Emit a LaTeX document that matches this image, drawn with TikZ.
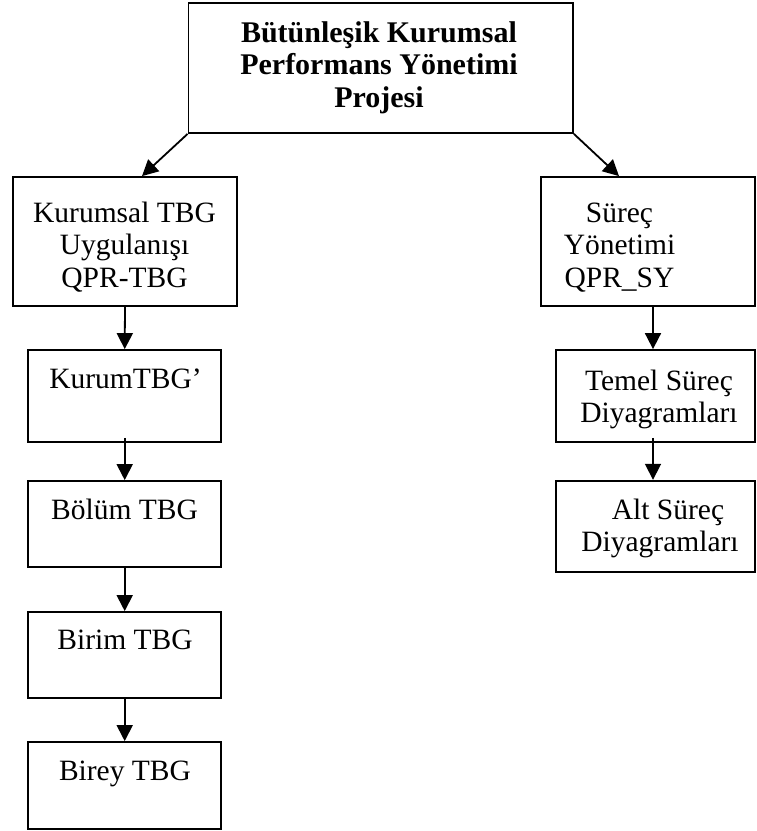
\documentclass[tikz,border=0pt]{standalone}
\usepackage{fontspec}
\setmainfont{Liberation Serif}
\usetikzlibrary{arrows.meta}
\begin{document}
\begin{tikzpicture}[x=1pt,y=-1pt,
  box/.style={draw, line width=1.8pt, inner sep=0pt},
  txt/.style={anchor=base, align=center, inner sep=0pt,
    font=\fontsize{29.5}{32.5}\selectfont},
  ttl/.style={anchor=base, align=center, inner sep=0pt,
    font=\fontsize{30}{32.5}\selectfont\bfseries},
  arr/.style={line width=1.8pt, -{Triangle[length=16pt,width=16pt]}}]

\fill[white] (0,0) rectangle (756,831);
\useasboundingbox (0,0) rectangle (756,831);

% frames
\node[box, minimum width=384.5pt, minimum height=130pt] (top)   at (380.75,68) {};
\node[box, minimum width=224pt,   minimum height=129pt] (kt)    at (125,241.5) {};
\node[box, minimum width=214pt,   minimum height=129pt] (sy)    at (648,241.5) {};
\node[box, minimum width=193pt,   minimum height=92pt]  (kurum) at (124.7,396) {};
\node[box, minimum width=193pt,   minimum height=86pt]  (bolum) at (124.7,524) {};
\node[box, minimum width=193pt,   minimum height=86pt]  (birim) at (124.7,655) {};
\node[box, minimum width=193pt,   minimum height=87pt]  (birey) at (124.7,785.5) {};
\node[box, minimum width=199pt,   minimum height=92pt]  (temel) at (655.5,396) {};
\node[box, minimum width=199pt,   minimum height=91pt]  (alt)   at (655.5,526.2) {};

% labels (a multi-line label is placed by the baseline of its last line)
\node[ttl] (topT) at (379,107) {Bütünleşik Kurumsal\\Performans Yönetimi\\Projesi};
\node[txt] (ktT) at (124.5,287) {Kurumsal TBG\\Uygulanışı\\QPR-TBG};
\node[txt] (syT) at (619.5,287) {Süreç\\Yönetimi\\QPR\_SY};
\node[txt] (kurumT) at (125.5,388) {KurumTBG’};
\node[txt] (bolumT) at (124.5,519) {Bölüm TBG};
\node[txt] (birimT) at (125,649) {Birim TBG};
\node[txt] (bireyT) at (125,780) {Birey TBG};
\node[txt] (temelT) at (659,422.5) {Temel Süreç\\Diyagramları};
\node[txt] (altT) at (660,551.5) {\hspace*{16pt}Alt Süreç\\Diyagramları};

% connectors
\draw[arr] (top.south west) -- ([xshift=17pt]kt.north);
\draw[arr] (top.south east) -- ([xshift=-29pt]sy.north);
\draw[arr] (kt.south) -- (kurum.north);
\draw[arr, shorten <=-5pt] (kurum.south) -- (bolum.north);
\draw[arr] (bolum.south) -- (birim.north);
\draw[arr] (birim.south) -- (birey.north);
\draw[arr] ([xshift=5pt]sy.south) -- ([xshift=-2.5pt]temel.north);
\draw[arr, shorten <=-5pt] ([xshift=-2.5pt]temel.south) -- ([xshift=-2.5pt]alt.north);
\end{tikzpicture}
\end{document}
